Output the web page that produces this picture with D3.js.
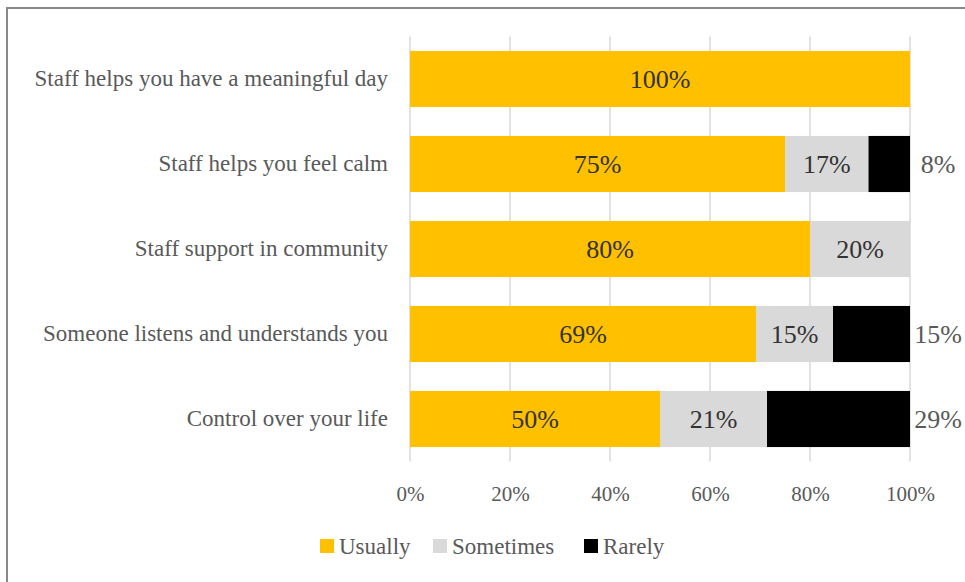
<!DOCTYPE html>
<html>
<head>
<meta charset="utf-8">
<script src="https://cdn.jsdelivr.net/npm/d3@7"></script>
<style>
  html, body { margin: 0; padding: 0; background: #fff; }
  svg text { font-family: "Liberation Serif", "Times New Roman", Tinos, "DejaVu Serif", serif !important; }
</style>
</head>
<body>
<svg id="chart" width="965" height="582"></svg>
<script>
const categories = [
  "Staff helps you have a meaningful day",
  "Staff helps you feel calm",
  "Staff support in community",
  "Someone listens and understands you",
  "Control over your life"
];
const seriesNames = ["Usually", "Sometimes", "Rarely"];
const usually   = [100, 75, 80, 69.2, 50];
const sometimes = [0, 16.7, 20, 15.4, 21.4];
const rarely    = [0, 8.3, 0, 15.4, 28.6];
const tickValues = [0, 20, 40, 60, 80, 100];
const colors = ["#FFC000", "#D9D9D9", "#000000"];

const svg = d3.select("#chart");

// outer border
svg.append("rect").attr("x", 7).attr("y", 8).attr("width", 975).attr("height", 600)
  .attr("fill", "none").attr("stroke", "#898989").attr("stroke-width", 2);

const x = d3.scaleLinear().domain([0, 100]).range([410, 910]);
const y = d3.scaleBand().domain(categories).range([36.5, 461.5]).paddingInner(0.34).paddingOuter(0.17);

// gridlines
svg.append("g").selectAll("line").data(tickValues).join("line")
  .attr("x1", d => x(d)).attr("x2", d => x(d))
  .attr("y1", 36.5).attr("y2", 461.5)
  .attr("stroke", "#D9D9D9").attr("stroke-width", 1.5);

// axis labels
const xAxis = d3.axisBottom(x).tickValues(tickValues).tickFormat(d => d + "%").tickSize(0).tickPadding(0);
const gx = svg.append("g").attr("transform", "translate(0,461.5)").call(xAxis);
gx.attr("font-family", null);
gx.select(".domain").remove();
gx.selectAll("text").attr("font-size", 21)
  .attr("fill", "#595959").attr("dy", "0").attr("y", 39);

// category labels
const yAxis = d3.axisLeft(y).tickSize(0).tickPadding(22);
const gy = svg.append("g").attr("transform", "translate(410,0)").call(yAxis);
gy.attr("font-family", null);
gy.select(".domain").remove();
gy.selectAll("text").attr("font-size", 23)
  .attr("fill", "#595959").attr("dy", "0.32em");

// stacked data
const rows = categories.map((c, i) => ({ cat: c, Usually: usually[i], Sometimes: sometimes[i], Rarely: rarely[i] }));
const stack = d3.stack().keys(seriesNames)(rows);

const layers = svg.append("g").selectAll("g").data(stack).join("g")
  .attr("fill", (d, i) => colors[i]);

layers.selectAll("rect").data(d => d.filter(s => s[1] - s[0] > 0)).join("rect")
  .attr("x", d => x(d[0]))
  .attr("y", d => y(d.data.cat))
  .attr("width", d => x(d[1]) - x(d[0]))
  .attr("height", y.bandwidth());

// data labels
const fmt = v => Math.round(v) + "%";
stack.forEach((layer, li) => {
  layer.forEach(s => {
    const v = s[1] - s[0];
    if (v <= 0) return;
    const outside = li === 2;
    svg.append("text")
      .attr("x", outside ? x(100) + 28 : x((s[0] + s[1]) / 2))
      .attr("y", y(s.data.cat) + y.bandwidth() / 2)
      .attr("dy", "0.35em")
      .attr("text-anchor", "middle")
      .attr("font-size", 26)
      .attr("fill", outside ? "#595959" : "#333333")
      .text(fmt(v));
  });
});

// legend
const legendX = [320, 433, 584];
const lg = svg.append("g");
seriesNames.forEach((n, i) => {
  lg.append("rect").attr("x", legendX[i]).attr("y", 539).attr("width", 14).attr("height", 14).attr("fill", colors[i]);
  lg.append("text").attr("x", legendX[i] + 19).attr("y", 546).attr("dy", "0.35em")
    .attr("font-size", 23).attr("fill", "#595959").text(n);
});
</script>
</body>
</html>
